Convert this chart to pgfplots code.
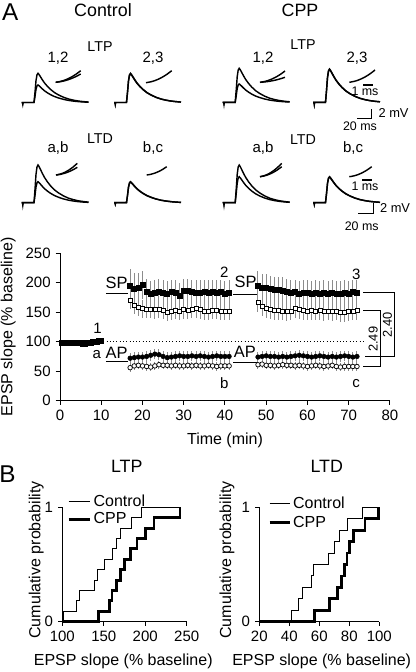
\documentclass[border=0pt]{standalone}
\usepackage{fontspec}
\setmainfont{Liberation Sans}
\usepackage{pgfplots}
\pgfplotsset{compat=1.18}
\usepackage{pgfplotstable}
\newcommand{\fs}[2]{\fontsize{#1}{#2}\selectfont}

% normalized EPSP waveform (d in px from trace start, s = fraction of peak)
\pgfplotstableread{
d s
0 0
1.0 0
1.3 -0.06
1.6 0
12.5 0
13.5 0.35
14.5 0.75
15.5 0.95
16.5 1.0
17.5 0.96
19 0.88
21 0.77
23 0.67
26 0.55
29 0.45
33 0.34
37 0.26
42 0.18
47 0.12
52 0.08
57 0.05
62 0.03
67 0.015
}\wave
\pgfplotstableread{
u v
0 0
0.2 0.08
0.4 0.22
0.6 0.42
0.8 0.68
1 1
}\inset

% main plot data: t (min), slope (% baseline), s.e.m.
\pgfplotstableread{
t y e
0.5 99 3
1 99 3
1.5 98 3
2 98 3
2.5 99 3
3 99 3
3.5 99 3
4 99 3
4.5 98 3
5 98 3
5.5 97 3
6 96 3
6.5 98 3
7 99 3
7.5 99 3
8 100 3
8.5 100 3
9 100 3
9.5 101 3
10 101 3
}\base
\pgfplotstableread{
t y e
17 170 15
18 162 15
19 158 15
20 156 15
21 155 15
22 155 15
23 154 15
24 155 15
25 153 15
26 150 15
27 152 15
28 153 15
29 152 15
30 154 15
31 153 15
32 155 15
33 156 15
34 154 15
35 152 15
36 151 15
37 153 15
38 153 15
39 152 15
40 151 15
41 152 15
48 167 16
49 160 16
50 157 16
51 155 16
52 153 16
53 153 16
54 152 16
55 151 16
56 152 16
57 156 16
58 154 16
59 153 16
60 152 16
61 153 16
62 152 16
63 153 16
64 151 16
65 152 16
66 151 16
67 152 16
68 150 16
69 150 16
70 151 16
71 152 16
72 153 16
}\ctlSP
\pgfplotstableread{
t y e
17 195 28
18 190 26
19 192 25
20 196 24
21 184 22
22 181 22
23 183 22
24 185 22
25 183 22
26 182 21
27 184 21
28 183 21
29 178 21
30 186 21
31 186 21
32 184 21
33 183 21
34 183 21
35 184 21
36 183 21
37 184 21
38 183 21
39 184 21
40 182 21
41 183 21
48 195 25
49 191 24
50 191 23
51 189 22
52 188 22
53 188 22
54 187 22
55 185 21
56 183 21
57 184 21
58 182 21
59 183 21
60 183 21
61 182 21
62 183 21
63 182 21
64 183 21
65 182 21
66 183 21
67 182 21
68 182 21
69 183 21
70 182 21
71 184 21
72 183 21
}\cppSP
\pgfplotstableread{
t y e
17 56 7
18 59 7
19 60 7
20 59 7
21 58 7
22 57 7
23 59 7
24 61 7
25 60 7
26 60 7
27 59 7
28 60 7
29 59 7
30 59 7
31 60 7
32 59 7
33 60 7
34 59 7
35 59 7
36 60 7
37 59 7
38 58 7
39 59 7
40 59 7
41 59 7
48 61 7
49 62 7
50 60 7
51 60 7
52 59 7
53 60 7
54 61 7
55 60 7
56 60 7
57 59 7
58 60 7
59 59 7
60 58 7
61 59 7
62 60 7
63 59 7
64 58 7
65 59 7
66 60 7
67 58 7
68 57 7
69 58 7
70 58 7
71 58 7
72 58 7
}\ctlAP
\pgfplotstableread{
t y e
17 72 9
18 73 9
19 74 9
20 74 9
21 75 9
22 77 9
23 79 9
24 78 9
25 75 9
26 73 9
27 74 9
28 75 9
29 76 9
30 75 9
31 75 9
32 76 9
33 75 9
34 76 9
35 75 9
36 74 9
37 75 9
38 76 9
39 75 9
40 75 9
41 75 9
48 74 9
49 75 9
50 76 9
51 75 9
52 75 9
53 74 9
54 75 9
55 74 9
56 75 9
57 76 9
58 77 9
59 76 9
60 75 9
61 74 9
62 75 9
63 76 9
64 75 9
65 74 9
66 75 9
67 74 9
68 75 9
69 76 9
70 75 9
71 74 9
72 75 9
}\cppAP

% cumulative distributions
\pgfplotstableread{
x p
100 0
102 0.0909
117 0.1818
121 0.2727
139 0.3636
143 0.4545
151 0.5455
161 0.6364
165 0.7273
170 0.8182
184 0.9091
195 1
242 1
}\ltpCtl
\pgfplotstableread{
x p
100 0
144 0.0909
157 0.1818
160 0.2727
165 0.3636
170 0.4545
175 0.5455
182 0.6364
190 0.7273
200 0.8182
210.5 0.9091
242 1
}\ltpCpp
\pgfplotstableread{
x p
20 0
41.3 0.1
46.3 0.2
48.9 0.3
55.1 0.4
56.2 0.5
65.8 0.6
70.2 0.7
73.3 0.8
78.5 0.9
88.5 1
99.5 1
}\ltdCtl
\pgfplotstableread{
x p
20 0
57 0.1
67 0.2
72 0.3
75 0.4
77 0.5
78.5 0.6
80 0.7
83 0.8
90.5 0.9
99.5 1
}\ltdCpp

\pgfplotsset{
  myaxis/.style={
    scale only axis,
    axis x line*=bottom, axis y line*=left,
    axis line style={line width=0.7pt},
    tick style={black, line width=0.7pt},
    major tick length=3pt,
    tick align=outside,
    /pgf/number format/assume math mode=true,
    tick label style={font=\fs{10.5pt}{12pt}},
    label style={font=\fs{11.2pt}{13pt}},
    clip=false,
  },
  tr/.style={black, line width=1pt, no marks},
  ins/.style={black, line width=1pt, no marks, smooth},
  eb/.style={error bars/.cd, y dir=both, y explicit, error mark=none,
    error bar style={black!45, line width=0.7pt}},
}

\begin{document}
\begin{tikzpicture}
\path[use as bounding box] (0pt,0pt) rectangle (291.2pt,-470.4pt);

% ---------- main time course ----------
\begin{axis}[myaxis,
  at={(42pt,-280.49pt)}, anchor=south west,
  width=231pt, height=103.25pt,
  xmin=0, xmax=80, ymin=0, ymax=250,
  xtick={0,10,...,80}, ytick={0,50,...,250},
  xlabel={Time (min)}, ylabel={EPSP slope (\% baseline)},
  xlabel style={at={(axis description cs:0.5,-0.266)}, anchor=center},
  ylabel style={at={(axis description cs:-0.157,0.5)}, anchor=center},
]
\draw[line width=0.7pt, dash pattern=on 0.7pt off 1.6pt] (axis cs:10.5,100) -- (axis cs:73.5,100);
\addplot[only marks, mark=square*, mark size=1.75pt, mark options={fill=black}] table[x=t,y=y] {\base};
\addplot[only marks, mark=square*, mark size=1.4pt, mark options={fill=white, draw=black, line width=0.5pt}, eb]
  table[x=t,y=y,y error=e] {\ctlSP};
\addplot[only marks, mark=square*, mark size=1.75pt, mark options={fill=black}, eb]
  table[x=t,y=y,y error=e] {\cppSP};
\addplot[only marks, mark=*, mark size=1.6pt, mark options={fill=white, draw=black, line width=0.5pt}, eb]
  table[x=t,y=y,y error=e] {\ctlAP};
\addplot[only marks, mark=*, mark size=1.6pt, mark options={fill=black}, eb]
  table[x=t,y=y,y error=e] {\cppAP};
% stimulation markers
\draw[line width=1pt] (axis cs:11.15,182) -- (axis cs:16.56,182);
\draw[line width=1pt] (axis cs:42.0,180.3) -- (axis cs:47.7,180.3);
\draw[line width=1pt] (axis cs:11.15,66) -- (axis cs:16.56,66);
\draw[line width=1pt] (axis cs:42.0,65) -- (axis cs:47.7,65);
\node[font=\fs{11.5pt}{13pt}] at (axis cs:13.7,199) {SP};
\node[font=\fs{11.5pt}{13pt}] at (axis cs:45.0,200.7) {SP};
\node[font=\fs{11.5pt}{13pt}] at (axis cs:13.7,81.4) {AP};
\node[font=\fs{11.5pt}{13pt}] at (axis cs:44.8,83) {AP};
\node[font=\fs{10.5pt}{12pt}] at (axis cs:9.1,122.7) {1};
\node[font=\fs{10.5pt}{12pt}] at (axis cs:8.9,77.5) {a};
\node[font=\fs{10.5pt}{12pt}] at (axis cs:39.8,217) {2};
\node[font=\fs{10.5pt}{12pt}] at (axis cs:71.8,214.7) {3};
\node[font=\fs{10.5pt}{12pt}] at (axis cs:39.8,29.5) {b};
\node[font=\fs{10.5pt}{12pt}] at (axis cs:71.8,28.3) {c};
% brackets
\draw[line width=0.7pt] (axis cs:73.5,183.7) -- (axis cs:81.0,183.7) -- (axis cs:81.0,74.1) -- (axis cs:73.9,74.1);
\draw[line width=0.7pt] (axis cs:73.5,153.2) -- (axis cs:77.6,153.2) -- (axis cs:77.6,58.8) -- (axis cs:73.5,58.8);
\node[font=\fs{9pt}{10pt}, rotate=90] at (axis cs:75.9,104.2) {2.49};
\node[font=\fs{9pt}{10pt}, rotate=90] at (axis cs:79.4,128.3) {2.40};
\end{axis}

% ---------- B: LTP ----------
\begin{axis}[myaxis,
  at={(43.61pt,-435.19pt)}, anchor=south west,
  width=87.08pt, height=80.08pt,
  xmin=100, xmax=250, ymin=0, ymax=1,
  xtick={100,150,200,250}, ytick={0,1},
  xlabel={EPSP slope (\% baseline)}, ylabel={Cumulative probability},
  xlabel style={at={(axis description cs:0.49,-0.35)}, anchor=center},
  ylabel style={at={(axis description cs:-0.21,0.54)}, anchor=center},
  title={LTP}, title style={at={(axis description cs:0.518,1.282)}, anchor=center, font=\fs{12.5pt}{14pt}},
  legend image code/.code={\draw[#1] (0pt,0pt) -- (15pt,0pt);},
  legend style={draw=none, fill=none, at={(axis cs:105.7,1.13)}, anchor=north west,
    row sep=0pt, inner sep=0pt,
    nodes={inner sep=1.4pt, font=\fs{11.2pt}{13pt}}},
  legend cell align=left,
]
\addplot[const plot, black, line width=0.7pt] table[x=x,y=p] {\ltpCtl};
\addplot[const plot, black, line width=2pt] table[x=x,y=p] {\ltpCpp};
\legend{Control, CPP}
\end{axis}

% ---------- B: LTD ----------
\begin{axis}[myaxis,
  at={(181.51pt,-435.19pt)}, anchor=south west,
  width=84pt, height=80.08pt,
  xmin=20, xmax=100, ymin=0, ymax=1,
  xtick={20,40,...,100}, ytick={0,1},
  xlabel={EPSP slope (\% baseline)}, ylabel={Cumulative probability},
  xlabel style={at={(axis description cs:0.52,-0.35)}, anchor=center},
  ylabel style={at={(axis description cs:-0.27,0.54)}, anchor=center},
  title={LTD}, title style={at={(axis description cs:0.562,1.282)}, anchor=center, font=\fs{12.5pt}{14pt}},
  legend image code/.code={\draw[#1] (0pt,0pt) -- (14pt,0pt);},
  legend style={draw=none, fill=none, at={(axis cs:25.8,1.11)}, anchor=north west,
    row sep=1pt, inner sep=0pt,
    nodes={inner sep=1.4pt, font=\fs{11.2pt}{13pt}}},
  legend cell align=left,
]
\addplot[const plot, black, line width=0.7pt] table[x=x,y=p] {\ltdCtl};
\addplot[const plot, black, line width=2pt] table[x=x,y=p] {\ltdCpp};
\legend{Control, CPP}
\end{axis}

% ---------- A: traces and panel labels (pixel frame) ----------
\begin{axis}[at={(0pt,0pt)}, anchor=north west, scale only axis,
  width=291.2pt, height=470.4pt, xmin=0, xmax=416, ymin=0, ymax=672,
  y dir=reverse, hide axis, clip=false]
% Control LTP 1,2
\addplot[tr] table[x expr=\thisrow{d}+21.5, y expr=102.5-29.2*\thisrow{s}] {\wave};
\addplot[tr] table[x expr=\thisrow{d}+21.5, y expr=102.5-17.5*\thisrow{s}] {\wave};
\addplot[ins] table[x expr=55.7+25*\thisrow{u}, y expr=82.3-11.6*\thisrow{v}] {\inset};
\addplot[ins] table[x expr=55.7+25*\thisrow{u}, y expr=82.3-8.3*\thisrow{v}] {\inset};
% Control LTP 2,3
\addplot[tr] table[x expr=\thisrow{d}+114, y expr=102.5-29.2*\thisrow{s}] {\wave};
\addplot[tr] table[x expr=\thisrow{d}+114, y expr=102.5-28.6*\thisrow{s}] {\wave};
\addplot[ins] table[x expr=146+25.7*\thisrow{u}, y expr=82.7-12*\thisrow{v}] {\inset};
% Control LTD a,b
\addplot[tr] table[x expr=\thisrow{d}+21.5, y expr=202.7-37.7*\thisrow{s}] {\wave};
\addplot[tr] table[x expr=\thisrow{d}+21.5, y expr=202.7-21*\thisrow{s}] {\wave};
\addplot[ins] table[x expr=56+21.3*\thisrow{u}, y expr=175-11.7*\thisrow{v}] {\inset};
\addplot[ins] table[x expr=56+21.3*\thisrow{u}, y expr=175-7.7*\thisrow{v}] {\inset};
% Control LTD b,c
\addplot[tr] table[x expr=\thisrow{d}+114, y expr=202.7-21*\thisrow{s}] {\wave};
\addplot[tr] table[x expr=\thisrow{d}+114, y expr=202.7-20.5*\thisrow{s}] {\wave};
\addplot[ins] table[x expr=146.7+20*\thisrow{u}, y expr=175-8.3*\thisrow{v}] {\inset};
% CPP LTP 1,2
\addplot[tr] table[x expr=\thisrow{d}+222.7, y expr=102.3-34*\thisrow{s}] {\wave};
\addplot[tr] table[x expr=\thisrow{d}+222.7, y expr=102.3-18.3*\thisrow{s}] {\wave};
\addplot[ins] table[x expr=260+25*\thisrow{u}, y expr=82.3-11.3*\thisrow{v}] {\inset};
\addplot[ins] table[x expr=260+25*\thisrow{u}, y expr=82.3-5*\thisrow{v}] {\inset};
% CPP LTP 2,3
\addplot[tr] table[x expr=\thisrow{d}+313, y expr=102.3-33.3*\thisrow{s}] {\wave};
\addplot[tr] table[x expr=\thisrow{d}+313, y expr=102.3-32.8*\thisrow{s}] {\wave};
\addplot[ins] table[x expr=349.3+25.7*\thisrow{u}, y expr=82.3-12.3*\thisrow{v}] {\inset};
% CPP LTD a,b
\addplot[tr] table[x expr=\thisrow{d}+222.7, y expr=202.7-37.7*\thisrow{s}] {\wave};
\addplot[tr] table[x expr=\thisrow{d}+222.7, y expr=202.7-26*\thisrow{s}] {\wave};
\addplot[ins] table[x expr=260+21.7*\thisrow{u}, y expr=176.7-13.4*\thisrow{v}] {\inset};
\addplot[ins] table[x expr=260+21.7*\thisrow{u}, y expr=176.7-10*\thisrow{v}] {\inset};
% CPP LTD b,c
\addplot[tr] table[x expr=\thisrow{d}+313, y expr=202.7-26*\thisrow{s}] {\wave};
\addplot[tr] table[x expr=\thisrow{d}+313, y expr=202.7-25.5*\thisrow{s}] {\wave};
\addplot[ins] table[x expr=349.3+22.4*\thisrow{u}, y expr=176.7-10*\thisrow{v}] {\inset};
% scale bars
\draw[line width=0.9pt] (axis cs:363.3,85) -- (axis cs:373.3,85);
\draw[line width=0.9pt] (axis cs:371.7,109) -- (axis cs:371.7,118.3) -- (axis cs:356.7,118.3);
\draw[line width=0.9pt] (axis cs:362.3,180) -- (axis cs:371.7,180);
\draw[line width=0.9pt] (axis cs:373.3,203.3) -- (axis cs:373.3,213.3) -- (axis cs:358.3,213.3);
\node[font=\fs{8.7pt}{10pt}] at (axis cs:365,91.7) {1 ms};
\node[font=\fs{8.7pt}{10pt}] at (axis cs:365,186.7) {1 ms};
\node[font=\fs{9pt}{10pt}, anchor=west] at (axis cs:373.5,113.3) {2 mV};
\node[font=\fs{9pt}{10pt}, anchor=west] at (axis cs:375,208) {2 mV};
\node[font=\fs{8.7pt}{10pt}] at (axis cs:360,126.7) {20 ms};
\node[font=\fs{8.7pt}{10pt}] at (axis cs:361.7,226) {20 ms};
% labels
\node[font=\fs{17pt}{19pt}] at (axis cs:10.3,11.7) {A};
\node[font=\fs{17pt}{19pt}] at (axis cs:7.5,474) {B};
\node[font=\fs{12.5pt}{14pt}] at (axis cs:103,10) {Control};
\node[font=\fs{12.5pt}{14pt}] at (axis cs:300,10) {CPP};
\node[font=\fs{10pt}{12pt}] at (axis cs:100,46.5) {LTP};
\node[font=\fs{10pt}{12pt}] at (axis cs:303,45) {LTP};
\node[font=\fs{10pt}{12pt}] at (axis cs:100,138.5) {LTD};
\node[font=\fs{10pt}{12pt}] at (axis cs:303,140) {LTD};
\node[font=\fs{10.5pt}{12pt}] at (axis cs:58,58) {1,2};
\node[font=\fs{10.5pt}{12pt}] at (axis cs:263,58) {1,2};
\node[font=\fs{10.5pt}{12pt}] at (axis cs:153,58) {2,3};
\node[font=\fs{10.5pt}{12pt}] at (axis cs:357,58) {2,3};
\node[font=\fs{10.5pt}{12pt}] at (axis cs:58,148.3) {a,b};
\node[font=\fs{10.5pt}{12pt}] at (axis cs:263,148.3) {a,b};
\node[font=\fs{10.5pt}{12pt}] at (axis cs:153,148.3) {b,c};
\node[font=\fs{10.5pt}{12pt}] at (axis cs:353,148.3) {b,c};
\end{axis}
\end{tikzpicture}
\end{document}
